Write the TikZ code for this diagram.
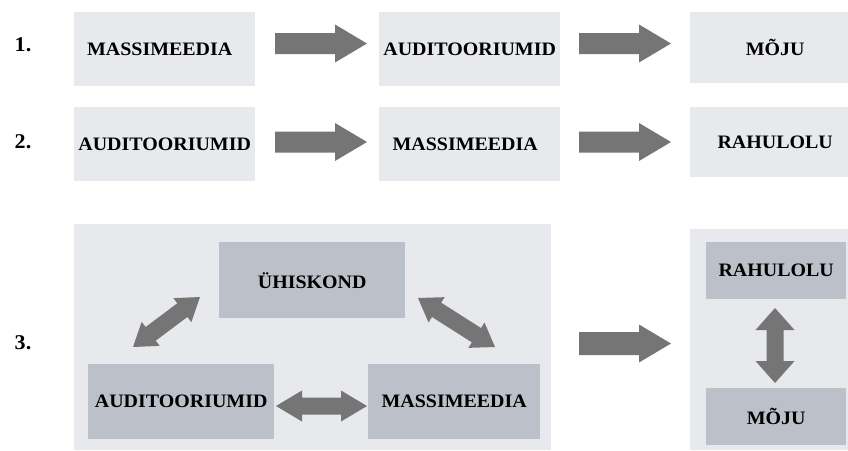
\documentclass[tikz,border=0pt]{standalone}
\usepackage{fontspec}
\setmainfont{Liberation Serif}[FakeStretch=1.05]
\usetikzlibrary{calc}
\definecolor{boxlight}{RGB}{231,233,236}
\definecolor{boxdark}{RGB}{188,193,201}
\definecolor{arrowgray}{RGB}{117,117,117}
\newcommand\singlearr[5]{%
  \fill[arrowgray] ($(#1)!#3!90:(#2)$) -- ($(#2)!#5!(#1)!#3!-90:(#1)$) -- ($(#2)!#5!(#1)!#4!-90:(#1)$) -- (#2)
    -- ($(#2)!#5!(#1)!#4!90:(#1)$) -- ($(#2)!#5!(#1)!#3!90:(#1)$) -- ($(#1)!#3!-90:(#2)$) -- cycle;}
\newcommand\dblarr[5]{%
  \fill[arrowgray] (#1) -- ($(#1)!#5!(#2)!#4!90:(#2)$) -- ($(#1)!#5!(#2)!#3!90:(#2)$)
    -- ($(#2)!#5!(#1)!#3!-90:(#1)$) -- ($(#2)!#5!(#1)!#4!-90:(#1)$) -- (#2)
    -- ($(#2)!#5!(#1)!#4!90:(#1)$) -- ($(#2)!#5!(#1)!#3!90:(#1)$)
    -- ($(#1)!#5!(#2)!#3!-90:(#2)$) -- ($(#1)!#5!(#2)!#4!-90:(#2)$) -- cycle;}
\begin{document}
\begin{tikzpicture}[x=1pt,y=-1pt,
  txt/.style={font=\bfseries\fontsize{19}{21}\selectfont, text=black},
  lbox/.style={txt, fill=boxlight, draw=none, inner sep=0pt, anchor=north west},
  dbox/.style={txt, fill=boxdark, draw=none, inner sep=0pt, anchor=north west},
  panel/.style={fill=boxlight, draw=none, inner sep=0pt, anchor=north west},
  num/.style={font=\bfseries\fontsize{21}{23}\selectfont, text=black}]
\useasboundingbox[fill=white] (0,0) rectangle (848,450);

% row labels
\node[num] (n1) at (23,45) {1.};
\node[num] (n2) at (23,142) {2.};
\node[num] (n3) at (23,343) {3.};

% row 1
\node[lbox, minimum width=181pt, minimum height=74pt] (b11) at (74,12) {MASSIMEEDIA\hspace*{10pt}};
\node[lbox, minimum width=181pt, minimum height=74pt] (b12) at (379,12) {AUDITOORIUMID};
\node[lbox, minimum width=158pt, minimum height=71pt] (b13) at (690,12) {\hspace*{12pt}MÕJU};
% row 2
\node[lbox, minimum width=181pt, minimum height=74pt] (b21) at (74,107) {AUDITOORIUMID};
\node[lbox, minimum width=181pt, minimum height=74pt] (b22) at (379,107) {MASSIMEEDIA\hspace*{9pt}};
\node[lbox, minimum width=158pt, minimum height=70pt] (b23) at (690,107) {\hspace*{12pt}RAHULOLU};
% row 3 panels
\node[panel, minimum width=477pt, minimum height=226pt] (p3) at (74,224) {};
\node[panel, minimum width=158pt, minimum height=221pt] (p4) at (690,229) {};
\node[dbox, minimum width=186pt, minimum height=76pt] (u3) at (219,242) {ÜHISKOND};
\node[dbox, minimum width=186pt, minimum height=75pt] (a3) at (88,364) {AUDITOORIUMID};
\node[dbox, minimum width=172pt, minimum height=75pt] (m3) at (368,364) {MASSIMEEDIA};
\node[dbox, minimum width=140pt, minimum height=57pt] (r3) at (706,242) {RAHULOLU};
\node[dbox, minimum width=140pt, minimum height=57pt] (j3) at (706,388) {MÕJU};

% arrow end points
\coordinate (a1s) at (275,43.5);  \coordinate (a1e) at (367,43.5);
\coordinate (a2s) at (579,43.5);  \coordinate (a2e) at (671,43.5);
\coordinate (a3s) at (275,142);   \coordinate (a3e) at (367,142);
\coordinate (a4s) at (579,142);   \coordinate (a4e) at (671,142);
\coordinate (a5s) at (579,343.5); \coordinate (a5e) at (671,343.5);
\coordinate (d1s) at (133,347);   \coordinate (d1e) at (200,297);
\coordinate (d2s) at (418,298);   \coordinate (d2e) at (495,347);
\coordinate (d3s) at (276,406);   \coordinate (d3e) at (367,406);
\coordinate (d4s) at (775,308);   \coordinate (d4e) at (775,383);

\singlearr{a1s}{a1e}{10.5pt}{19pt}{32pt}
\singlearr{a2s}{a2e}{10.5pt}{19pt}{32pt}
\singlearr{a3s}{a3e}{10.5pt}{19pt}{32pt}
\singlearr{a4s}{a4e}{10.5pt}{19pt}{32pt}
\singlearr{a5s}{a5e}{11.5pt}{19pt}{32pt}
\dblarr{d1s}{d1e}{8.5pt}{15pt}{22pt}
\dblarr{d2s}{d2e}{8.5pt}{15pt}{22pt}
\dblarr{d3s}{d3e}{8.5pt}{15.5pt}{26pt}
\dblarr{d4s}{d4e}{8.5pt}{19.5pt}{22pt}
\end{tikzpicture}
\end{document}
